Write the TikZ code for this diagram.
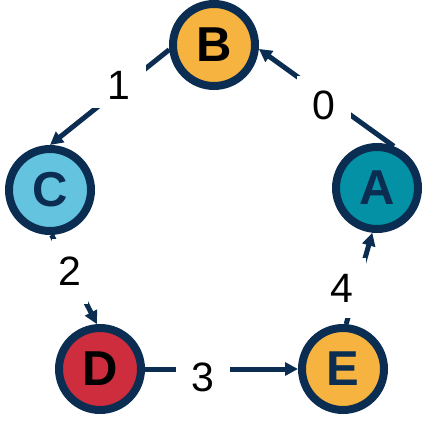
\documentclass[tikz,border=0pt]{standalone}
\usepackage{fontspec}
\setmainfont{Liberation Sans}
\usetikzlibrary{arrows.meta}
\definecolor{navy}{HTML}{0B2D52}
\definecolor{orangefill}{HTML}{F6B340}
\definecolor{lightbluefill}{HTML}{64C4E0}
\definecolor{tealfill}{HTML}{0491A5}
\definecolor{redfill}{HTML}{CD2D3C}
\tikzset{
  vertex/.style={circle, draw=navy, line width=8pt, minimum size=82pt, inner sep=0pt,
    font=\fontsize{49}{49}\selectfont\bfseries},
  edge/.style={draw=navy, line width=5pt, -{Triangle[length=13pt,width=13pt]}},
  lbl/.style={fill=white, text=black, font=\fontsize{41}{41}\selectfont, anchor=center}
}
\begin{document}
\begin{tikzpicture}[x=1pt, y=-1pt]
\useasboundingbox (0,0) rectangle (425,430);
\node[vertex, fill=orangefill, text=black] (B) at (214,45) {B};
\node[vertex, fill=lightbluefill, text=navy] (C) at (50,190) {C};
\node[vertex, fill=tealfill, text=navy] (A) at (377,188) {A};
\node[vertex, fill=redfill, text=black] (D) at (100,369) {D};
\node[vertex, fill=orangefill, text=navy] (E) at (343,369) {E};

\draw[edge] (A.68) -- node[lbl, pos=0.517, yshift=-9pt, inner xsep=16pt, inner ysep=14pt] (l0) {0} (B.-5);
\draw[edge] (B.186) -- node[lbl, pos=0.421, yshift=4.8pt, inner xsep=15.6pt, inner ysep=9pt] (l1) {1} (C.north);
\draw[edge] (C.-88) -- node[lbl, pos=0.411, inner xsep=6.6pt, inner ysep=18pt] (l2) {2} (D.94);
\draw[edge] (D.east) -- node[lbl, pos=0.379, yshift=-8pt, inner xsep=16pt, inner ysep=2pt] (l3) {3} (E.west);
\draw[edge] (E.86) -- node[lbl, pos=0.395, xshift=-14.5pt, inner xsep=12.6pt, inner ysep=16pt] (l4) {4} (A.264);
\end{tikzpicture}
\end{document}
